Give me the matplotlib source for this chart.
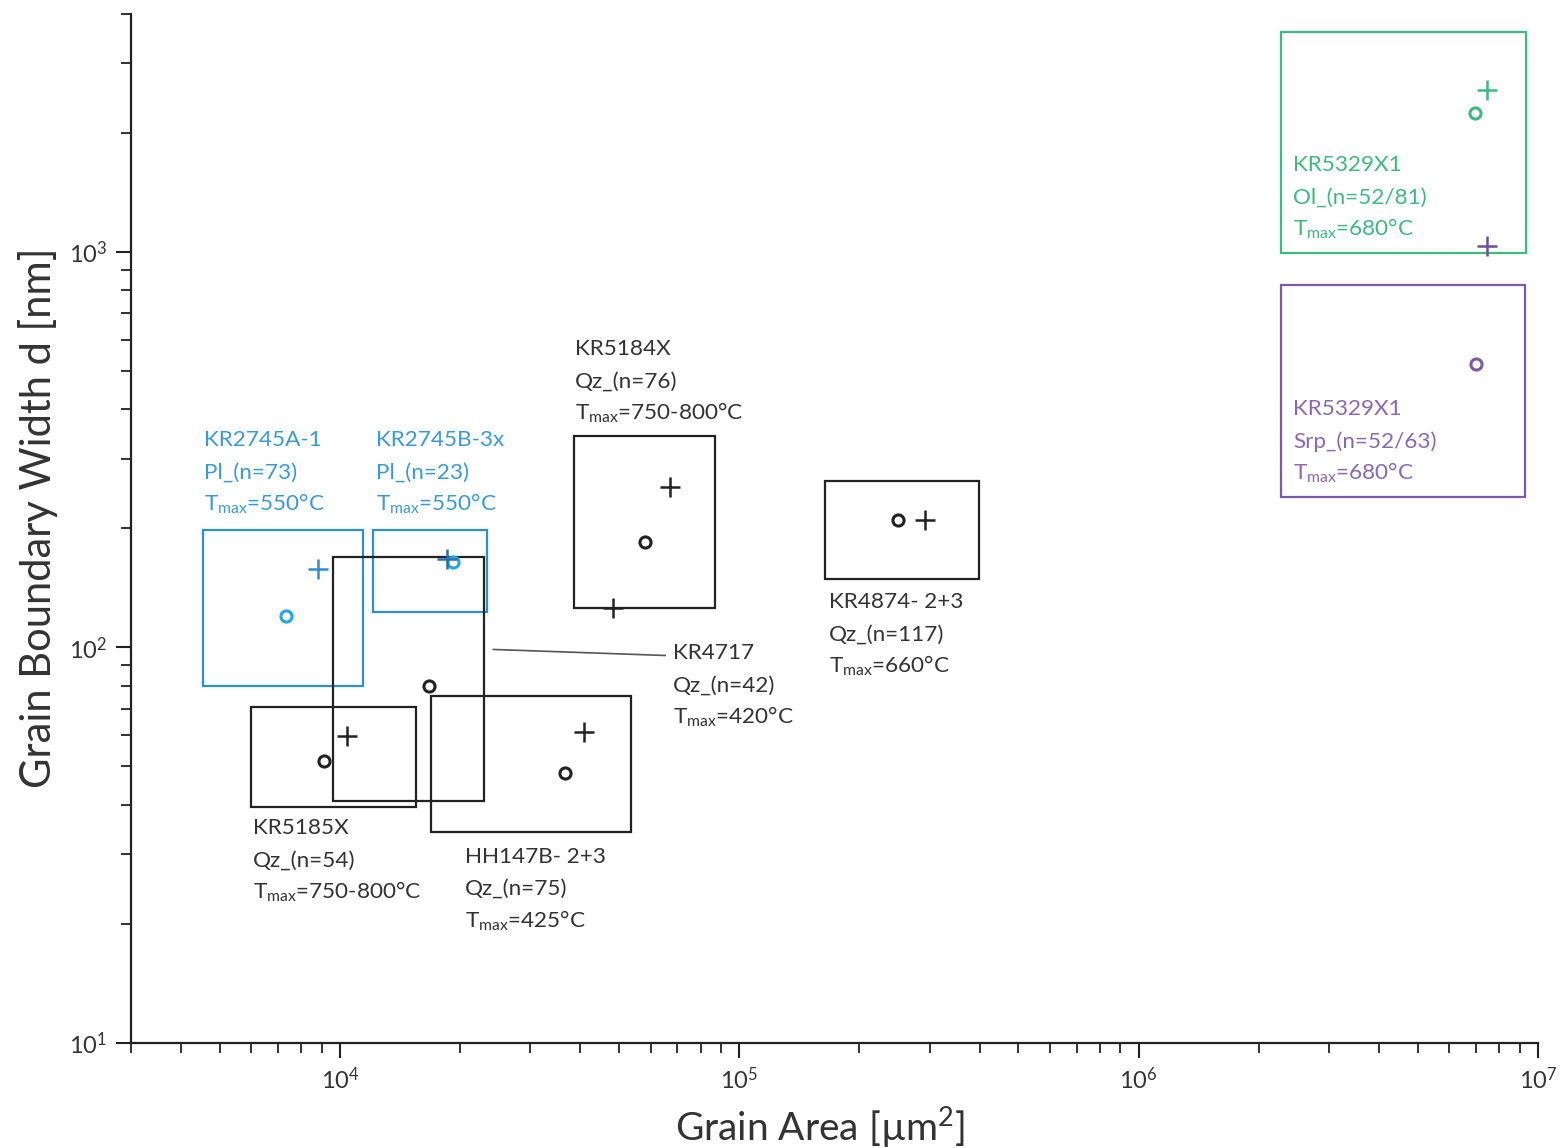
import matplotlib
matplotlib.use("Agg")
import matplotlib.pyplot as plt
from matplotlib.patches import Rectangle

plt.rcParams['font.family'] = ['Lato', 'DejaVu Sans']
plt.rcParams['mathtext.fontset'] = 'custom'
plt.rcParams['mathtext.rm'] = 'Lato'
plt.rcParams['mathtext.it'] = 'Lato:italic'
plt.rcParams['mathtext.bf'] = 'Lato:bold'

# Samples
samples = ['KR2745A-1', 'KR2745B-3x', 'KR4717', 'KR5185X', 'HH147B- 2+3',
           'KR5184X', 'KR4874- 2+3', 'KR5329X1', 'KR5329X1']
phases = ['Pl_(n=73)', 'Pl_(n=23)', 'Qz_(n=42)', 'Qz_(n=54)', 'Qz_(n=75)',
          'Qz_(n=76)', 'Qz_(n=117)', 'Ol_(n=52/81)', 'Srp_(n=52/63)']
tmax = ['550°C', '550°C', '420°C', '750-800°C', '425°C',
        '750-800°C', '660°C', '680°C', '680°C']

# Range boxes: grain area (µm²) and boundary width (nm)
box_area_lo = [4550, 12100, 9600, 6000, 16950, 38600, 164000, 2.27e6, 2.27e6]
box_area_hi = [11450, 23400, 23000, 15500, 53600, 87000, 399000, 9.33e6, 9.28e6]
box_width_lo = [80, 123, 41, 39.6, 34.1, 125.5, 148.5, 991, 240]
box_width_hi = [198, 198, 169, 70.5, 75.2, 342, 263, 3590, 823]

# Circle estimates
circ_area = [7350, 19200, 16700, 9150, 36700, 58200, 250000, 6.96e6, 7.0e6]
circ_width = [120, 164, 80, 51.5, 48, 185, 209.5, 2240, 520]

# Cross estimates
plus_area = [8800, 18600, 48400, 10450, 40900, 67200, 292000, 7.45e6, 7.45e6]
plus_width = [158, 167, 126, 59.6, 61, 254, 209.5, 2560, 1032]

# Label anchors (first text line)
label_area = [4580, 12340, 68370, 6073, 20620, 38860, 168000, 2.436e6, 2.436e6]
label_width = [333.8, 333.8, 96.6, 34.9, 29.6, 567, 130, 1654, 399.7]

BLUE = '#2e8fcf'
BLUE_M = '#25a6dc'
GREEN = '#3dba80'
PURPLE = '#7c5aa8'
BLACK = '#222222'
colors = [BLUE, BLUE, BLACK, BLACK, BLACK, BLACK, BLACK, GREEN, PURPLE]
circ_colors = [BLUE_M, BLUE_M, BLACK, BLACK, BLACK, BLACK, BLACK, GREEN, PURPLE]
plus_colors = [BLUE, '#2a6fb0', BLACK, BLACK, BLACK, BLACK, BLACK, GREEN, '#6a4f9e']
text_colors = ['#3a9ad6', '#3a9ad6', '#333333', '#333333', '#333333',
               '#333333', '#333333', '#3dba80', '#8a68b4']

# Leader line from KR4717 box to its label
leader_area = [24230, 65270]
leader_width = [98.8, 95.4]

fig = plt.figure(figsize=(15.64, 11.48), dpi=100)
ax = fig.add_axes([131 / 1564, 1 - 1043 / 1148, 1407 / 1564, 1029.4 / 1148])
ax.set_xscale('log')
ax.set_yscale('log')
ax.set_xlim(3000, 1e7)
ax.set_ylim(10, 4000)

for s in ['top', 'right']:
    ax.spines[s].set_visible(False)
for s in ['left', 'bottom']:
    ax.spines[s].set_linewidth(1.6)
    ax.spines[s].set_color('#222222')

ax.tick_params(which='major', direction='out', length=11, width=1.5,
               colors='#222222', labelsize=17, labelcolor='#333333', pad=6)
ax.tick_params(which='minor', direction='out', length=7, width=1.3,
               colors='#222222')

for i in range(len(samples)):
    rect = Rectangle((box_area_lo[i], box_width_lo[i]),
                     box_area_hi[i] - box_area_lo[i],
                     box_width_hi[i] - box_width_lo[i],
                     fill=False, edgecolor=colors[i], linewidth=1.6, zorder=2)
    ax.add_patch(rect)
    ax.plot(circ_area[i], circ_width[i], marker='o', markersize=8,
            markerfacecolor='none', markeredgecolor=circ_colors[i],
            markeredgewidth=2.2, linestyle='none', zorder=3)
    ax.plot(plus_area[i], plus_width[i], marker='+', markersize=14,
            markeredgecolor=plus_colors[i], markeredgewidth=1.8,
            linestyle='none', zorder=3)
    lines = [samples[i], phases[i], r'$\mathregular{T_{max}}$=' + tmax[i]]
    for k, line in enumerate(lines):
        ax.annotate(line, xy=(label_area[i], label_width[i]),
                    xytext=(0, -23 * k), textcoords='offset points',
                    ha='left', va='center', fontsize=16.2,
                    color=text_colors[i], zorder=4)

ax.plot(leader_area, leader_width, color='#555555', linewidth=1.2, zorder=1)

fig.text(38 / 1564, 1 - 518 / 1148, 'Grain Boundary Width d [nm]',
         rotation=90, ha='center', va='center', fontsize=30, color='#333333')
fig.text(820 / 1564, 1 - 1127 / 1148, 'Grain Area [µm$\\mathregular{^2}$]',
         ha='center', va='center', fontsize=28, color='#333333')

fig.savefig('out.png', dpi=100)
